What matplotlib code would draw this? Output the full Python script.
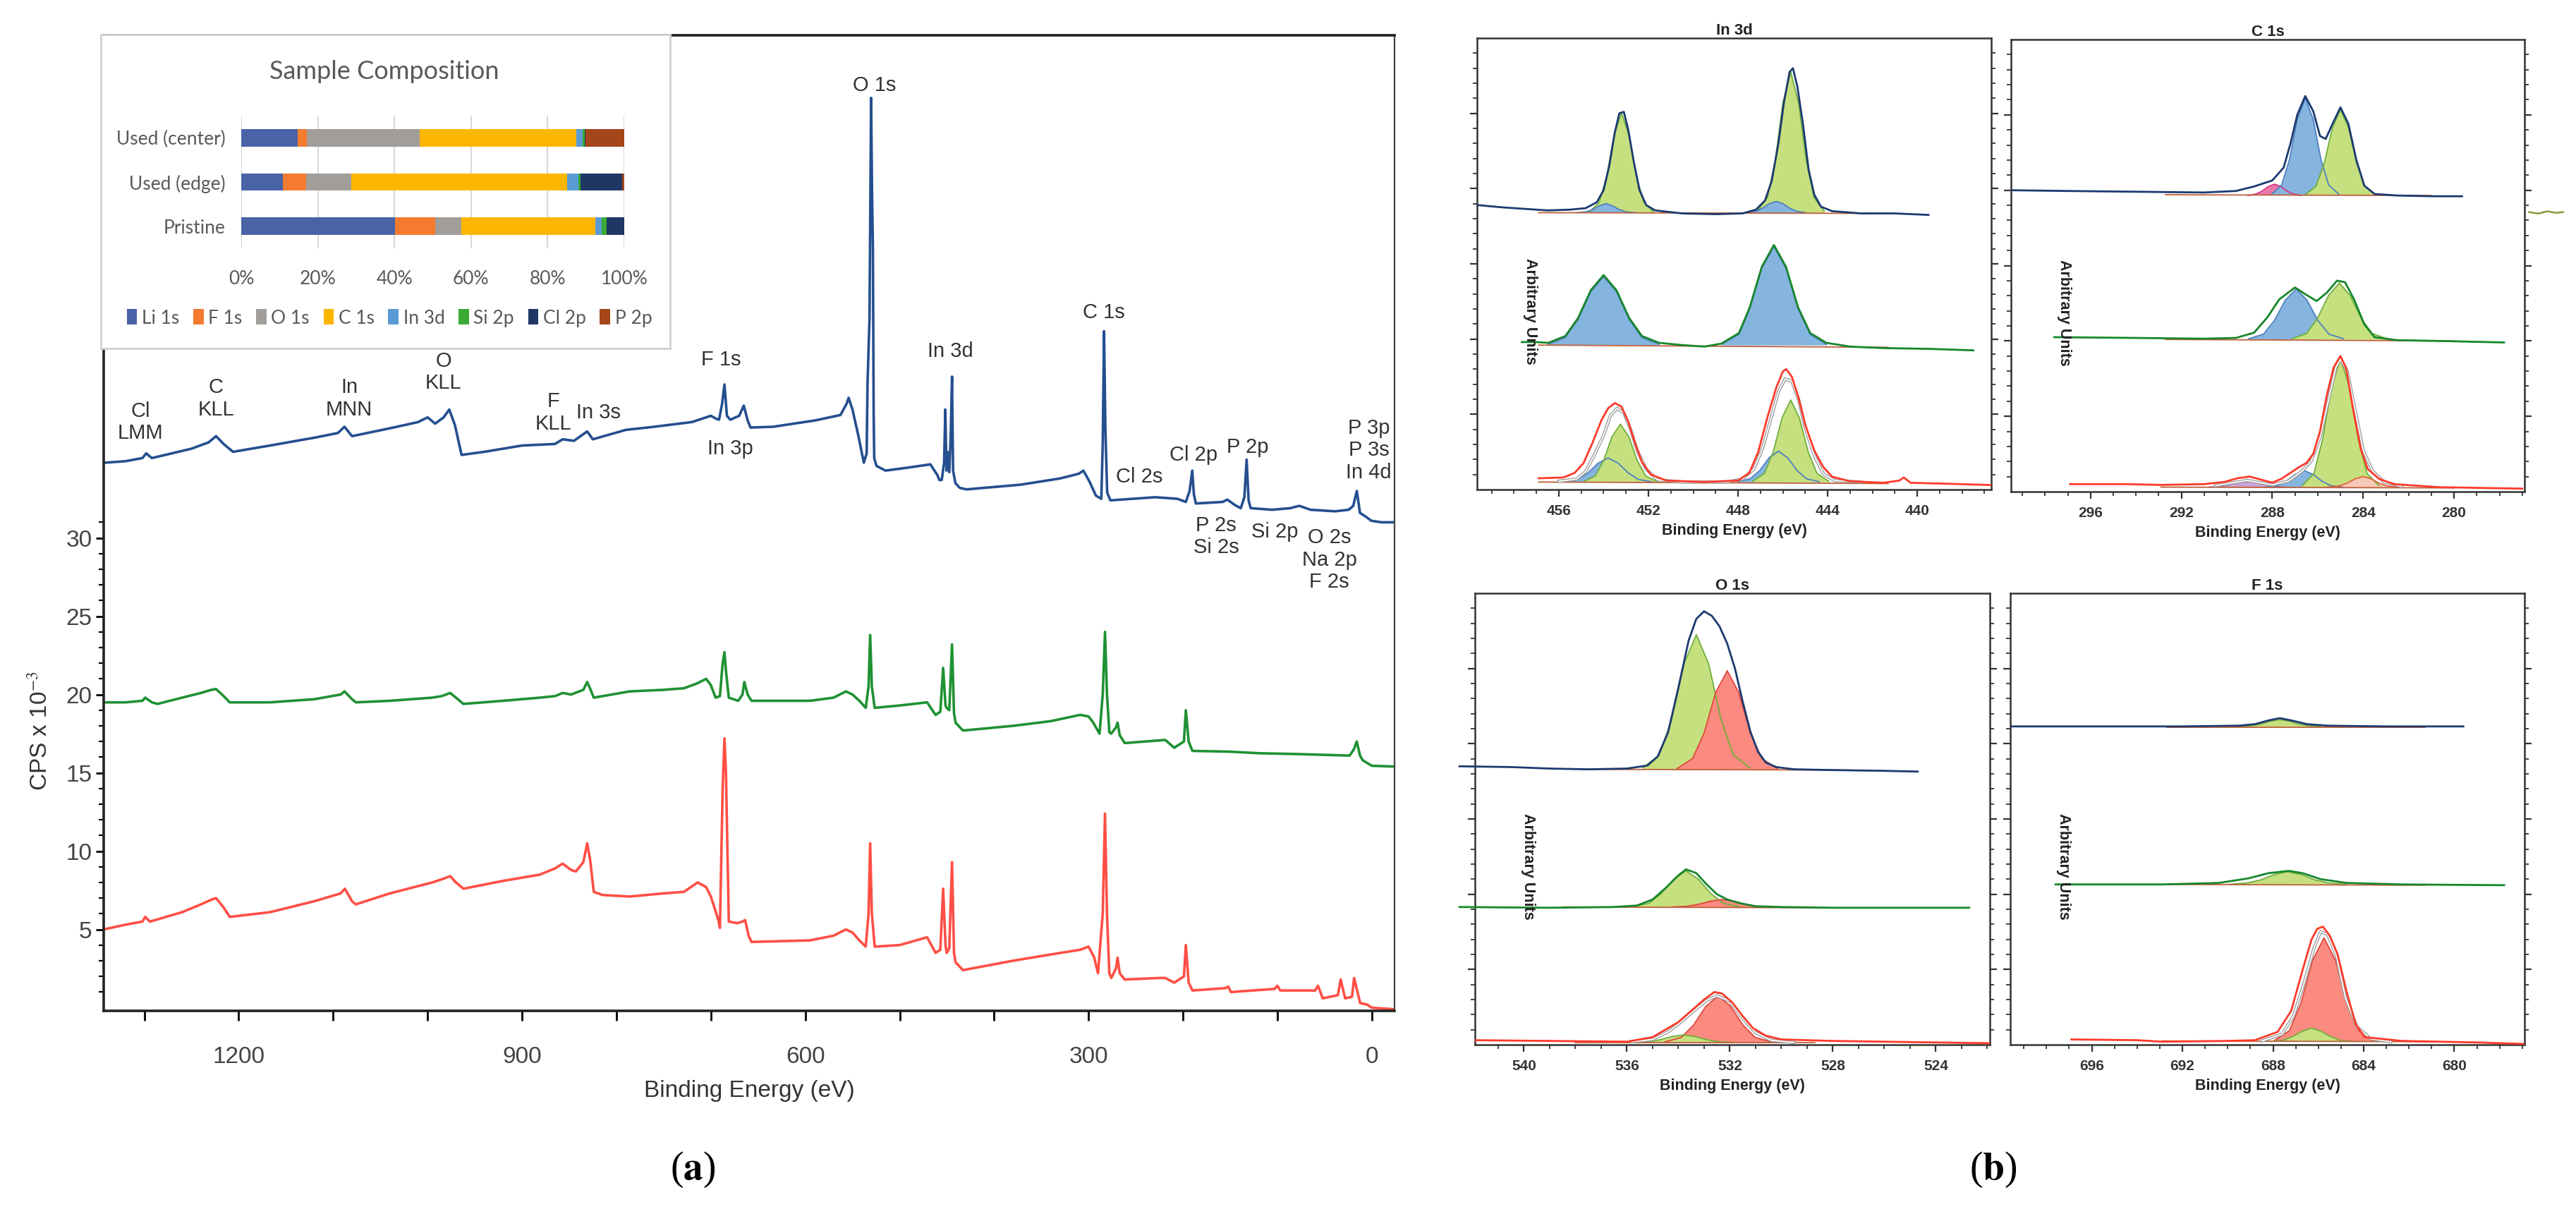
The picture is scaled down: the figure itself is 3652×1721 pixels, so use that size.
import matplotlib
matplotlib.use("Agg")
import matplotlib.pyplot as plt
from matplotlib.patches import Patch

plt.rcParams["mathtext.fontset"] = "stix"

# ---------------- inset: sample composition ----------------
samples = ["Pristine", "Used (edge)", "Used (center)"]
elements = ["Li 1s", "F 1s", "O 1s", "C 1s", "In 3d", "Si 2p", "Cl 2p", "P 2p"]
share_pristine = [40.1, 10.6, 6.7, 35.1, 1.6, 1.3, 4.6, 0.0]
share_edge = [10.9, 6.1, 11.8, 56.2, 3.1, 0.5, 10.8, 0.6]
share_center = [14.7, 2.5, 29.4, 40.8, 1.8, 0.5, 0.1, 10.2]
element_colors = ["#4a62a6", "#f47b30", "#a19d99", "#fdb600",
                  "#5b9bd5", "#3aaa35", "#1f3764", "#a5461a"]

# ---------------- survey spectra (a) ----------------
survey_blue = [
    (1343, 34.8), (1320, 34.9), (1302, 35.1), (1298, 35.4), (1292, 35.1), (1250, 35.7),
    (1232, 36.1), (1224, 36.5), (1216, 36.0), (1206, 35.5), (1167, 35.9), (1120, 36.4),
    (1095, 36.7), (1088, 37.1), (1080, 36.5), (1040, 37.0), (1010, 37.4), (1000, 37.7),
    (992, 37.3), (983, 37.7), (977, 38.2), (971, 37.2), (964, 35.3), (940, 35.5),
    (900, 35.9), (865, 36.0), (857, 36.3), (845, 36.2), (831, 36.8), (825, 36.3),
    (790, 36.9), (760, 37.1), (720, 37.4), (705, 37.7), (700, 37.8), (694, 37.6),
    (691.3, 37.55), (688, 38.6), (685.6, 39.8), (683, 37.8), (679.4, 37.55), (670, 37.8),
    (665.1, 38.45), (661, 37.5), (658, 37.05), (634, 37.1), (590, 37.5), (562.7, 37.85),
    (556, 38.6), (554.1, 38.95), (550, 38.2), (543.7, 36.5), (538, 34.8), (535, 35.4),
    (534.1, 39.8), (532, 44.0), (530.3, 58.1), (529.3, 52.0), (528.4, 48.6), (527.6, 38.0),
    (527, 35.1), (524.6, 34.6), (515, 34.3), (490, 34.5), (467.5, 34.7), (460, 34.0),
    (458, 33.7), (455.5, 33.7), (453, 34.8), (451.7, 38.2), (450.5, 34.3), (449.5, 35.5),
    (447.5, 34.2), (446, 36.5), (444.6, 40.3), (443.5, 34.3), (441, 33.5), (436.5, 33.2),
    (429.3, 33.1), (372, 33.4), (330, 33.8), (310.3, 34.1), (305.5, 34.3), (299, 33.6),
    (292.2, 32.7), (286.5, 32.5), (285, 36.0), (283.6, 43.2), (282.2, 37.0), (280.3, 32.9),
    (276.9, 32.4), (229.3, 32.6), (206, 32.5), (197, 32.3), (193, 33.0), (190.2, 34.3),
    (188.5, 32.8), (186.4, 32.2), (157.9, 32.3), (153.1, 32.45), (145, 32.1), (138.8, 31.9),
    (135, 32.6), (132.6, 35.0), (130.5, 32.4), (128.3, 31.9), (105.5, 31.8), (86.4, 31.9),
    (76.9, 32.05), (65, 31.8), (38.8, 31.7), (24.5, 31.8), (19.7, 32.05), (15.9, 33.0),
    (12.6, 31.6), (5, 31.3), (0.7, 31.1), (-10, 31.0), (-24, 31.0)]

survey_green = [
    (1343, 19.5), (1320, 19.5), (1302, 19.6), (1299, 19.8), (1292, 19.5), (1286, 19.4),
    (1260, 19.8), (1240, 20.1), (1229, 20.3), (1224, 20.35), (1216, 19.9), (1209.5, 19.5),
    (1167, 19.5), (1120, 19.7), (1092, 20.0), (1088, 20.2), (1080, 19.7), (1076, 19.5),
    (1040, 19.6), (995, 19.8), (985, 19.9), (976, 20.1), (970, 19.8), (962, 19.4),
    (920, 19.6), (881, 19.8), (865, 19.9), (857, 20.1), (848, 20.0), (835, 20.3),
    (831, 20.8), (828, 20.4), (824, 19.8), (786, 20.2), (750, 20.3), (728.5, 20.4),
    (715, 20.7), (705, 21.0), (700, 20.6), (695, 19.8), (690.4, 19.9), (687.5, 22.0),
    (685.6, 22.7), (684, 21.5), (681, 19.8), (671, 19.6), (666.5, 20.0), (664.6, 20.8),
    (661, 20.0), (657, 19.6), (595, 19.6), (570, 19.8), (557, 20.2), (550, 20.0),
    (542.7, 19.6), (536, 19.15), (533, 20.5), (531.3, 23.8), (529.5, 20.5), (526.5, 19.15),
    (500, 19.3), (471, 19.5), (462, 18.7), (457, 18.9), (454, 21.7), (451.5, 19.3),
    (450.3, 19.15), (447.5, 19.0), (444.6, 23.2), (442.5, 18.8), (440.8, 18.2), (433, 17.7),
    (380, 18.0), (340, 18.3), (309, 18.7), (300, 18.6), (295, 18.2), (288.4, 17.5),
    (285, 20.0), (282.6, 24.0), (280.5, 20.0), (278, 17.6), (276, 17.5), (271, 17.9),
    (269.3, 18.2), (267, 17.4), (261.7, 16.9), (218.8, 17.1), (209.3, 16.6), (199, 17.0),
    (197, 19.0), (194, 17.0), (190, 16.4), (150, 16.35), (118.8, 16.25), (80, 16.2),
    (23.6, 16.1), (19, 16.5), (16, 17.0), (12.5, 16.1), (9.6, 15.8), (0, 15.45), (-24, 15.4)]

survey_red = [
    (1343, 5.0), (1320, 5.3), (1302, 5.5), (1299, 5.8), (1294, 5.5), (1260, 6.1),
    (1240, 6.6), (1229, 6.9), (1224, 7.0), (1216, 6.4), (1209.5, 5.8), (1167, 6.1),
    (1120, 6.8), (1092, 7.3), (1087.6, 7.6), (1080, 6.8), (1076, 6.6), (1040, 7.3),
    (995, 8.0), (985, 8.2), (976, 8.4), (970, 8.0), (962, 7.6), (920, 8.1),
    (881, 8.5), (865, 8.9), (857, 9.2), (848, 8.8), (843, 8.7), (835, 9.3),
    (831, 10.5), (828, 9.5), (824, 7.4), (815, 7.2), (786, 7.1), (750, 7.3),
    (728.5, 7.4), (714, 8.0), (705, 7.7), (700, 7.1), (692, 5.6), (690.4, 5.1),
    (687.5, 14.0), (685.6, 17.2), (684, 15.0), (681, 5.5), (672, 5.4), (666.5, 5.5),
    (663.7, 5.6), (660, 4.6), (657, 4.2), (595, 4.3), (570, 4.6), (557, 5.0),
    (550, 4.8), (542.7, 4.3), (536, 3.9), (533, 6.0), (531.3, 10.5), (529.5, 6.0),
    (526.5, 3.9), (500, 4.0), (471, 4.5), (462, 3.5), (457, 3.7), (454, 7.6),
    (451.5, 4.0), (450.3, 3.5), (447.5, 3.8), (444.6, 9.3), (442.5, 3.5), (440.8, 2.9),
    (433, 2.4), (380, 3.0), (340, 3.4), (309, 3.7), (300, 3.9), (294, 3.2),
    (290, 2.2), (285, 6.0), (282.6, 12.4), (280.5, 6.0), (278, 2.2), (276, 1.9),
    (271, 2.5), (269.3, 3.2), (267, 2.2), (261.7, 1.8), (225, 1.9), (218.8, 1.9),
    (209.3, 1.6), (199, 2.0), (197, 4.0), (194, 1.6), (190, 1.1), (155, 1.25),
    (152, 1.35), (149.3, 1.0), (103, 1.2), (100, 1.4), (97, 1.1), (81, 1.1),
    (60, 1.1), (57, 1.4), (52, 0.6), (36, 0.8), (33, 1.8), (28.3, 0.6),
    (21, 0.7), (18.8, 1.9), (12.4, 0.3), (5, 0.2), (0, 0.0), (-24, -0.1)]

survey_labels = [
    ("Cl\nLMM", 1304, 37.4), ("C\nKLL", 1224, 38.9), ("In\nMNN", 1083, 38.9),
    ("O\nKLL", 983, 40.6), ("F\nKLL", 867, 38.0), ("In 3s", 819, 38.0),
    ("F 1s", 689, 41.4), ("In 3p", 679.5, 35.7), ("O 1s", 527, 58.9),
    ("In 3d", 446, 41.9), ("C 1s", 284, 44.4), ("Cl 2s", 246, 33.9),
    ("Cl 2p", 188.8, 35.3), ("P 2p", 131.6, 35.8), ("P 3p\nP 3s\nIn 4d", 3.1, 35.6),
    ("P 2s\nSi 2s", 165, 30.1), ("Si 2p", 103, 30.4), ("O 2s\nNa 2p\nF 2s", 45, 28.6)]

# ---------------- high resolution spectra (b) ----------------
# In 3d
in3d_top_data = [
    (459.6, 3.78), (458.5, 3.75), (457.5, 3.73), (456.5, 3.71), (455.5, 3.72), (454.8, 3.74),
    (454.3, 3.82), (454.0, 3.98), (453.75, 4.3), (453.5, 4.75), (453.3, 5.0), (453.1, 5.02),
    (452.9, 4.78), (452.65, 4.35), (452.4, 3.98), (452.1, 3.78), (451.7, 3.71), (450.5, 3.67),
    (449.0, 3.66), (447.8, 3.67), (447.2, 3.72), (446.8, 3.84), (446.5, 4.1), (446.2, 4.6),
    (445.95, 5.15), (445.7, 5.55), (445.55, 5.6), (445.35, 5.35), (445.1, 4.85), (444.85, 4.25),
    (444.6, 3.92), (444.3, 3.76), (443.8, 3.7), (442.5, 3.67), (441.0, 3.67), (439.5, 3.65)]
in3d_top_g1 = [(454.63, 3.69), (454.19, 3.82), (453.86, 4.17), (453.53, 4.71), (453.2, 5.0),
               (452.87, 4.71), (452.54, 4.17), (452.21, 3.82), (451.77, 3.69)]
in3d_top_b1 = [(455.2, 3.68), (454.8, 3.69), (454.5, 3.72), (454.2, 3.77), (453.9, 3.8),
               (453.6, 3.77), (453.3, 3.72), (453.0, 3.69), (452.6, 3.68)]
in3d_top_g2 = [(447.15, 3.7), (446.69, 3.88), (446.34, 4.37), (446.0, 5.14), (445.65, 5.55),
               (445.3, 5.14), (444.96, 4.37), (444.61, 3.88), (444.15, 3.7)]
in3d_top_b2 = [(447.6, 3.68), (447.2, 3.7), (446.9, 3.74), (446.6, 3.8), (446.3, 3.83),
               (446.0, 3.8), (445.7, 3.74), (445.4, 3.7), (445.0, 3.68)]
in3d_top_bg = [(456.9, 3.68), (441.3, 3.67)]

in3d_mid_data = [
    (457.65, 1.96), (457.0, 1.96), (456.47, 1.95), (455.71, 2.04), (455.14, 2.28), (454.57, 2.65),
    (454.0, 2.85), (453.43, 2.65), (452.86, 2.28), (452.29, 2.04), (451.53, 1.95), (450.5, 1.92),
    (449.5, 1.9), (448.74, 1.94), (447.96, 2.08), (447.48, 2.42), (446.94, 2.96), (446.4, 3.25),
    (445.86, 2.96), (445.32, 2.42), (444.78, 2.08), (444.06, 1.95), (443.0, 1.9), (441.5, 1.88),
    (439.5, 1.87), (437.5, 1.85)]
in3d_mid_b1 = [(456.47, 1.93), (455.71, 2.02), (455.14, 2.26), (454.57, 2.63), (454.0, 2.83),
               (453.43, 2.63), (452.86, 2.26), (452.29, 2.02), (451.53, 1.93)]
in3d_mid_b2 = [(448.74, 1.93), (447.96, 2.06), (447.48, 2.4), (446.94, 2.94), (446.4, 3.23),
               (445.86, 2.94), (445.32, 2.4), (444.78, 2.06), (444.06, 1.93)]
in3d_mid_bg = [(456.9, 1.92), (441.3, 1.89)]

in3d_bot_data = [
    (456.9, 0.15), (455.8, 0.16), (455.3, 0.22), (454.9, 0.35), (454.5, 0.62), (454.1, 0.92),
    (453.8, 1.08), (453.5, 1.15), (453.2, 1.1), (452.9, 0.9), (452.6, 0.62), (452.3, 0.37),
    (451.9, 0.2), (451.2, 0.12), (449.5, 0.1), (448.0, 0.12), (447.5, 0.22), (447.1, 0.5),
    (446.7, 0.95), (446.3, 1.35), (446.0, 1.57), (445.85, 1.6), (445.6, 1.5), (445.3, 1.22),
    (445.0, 0.86), (444.6, 0.52), (444.2, 0.3), (443.8, 0.17), (443.0, 0.11), (441.5, 0.09),
    (440.8, 0.12), (440.6, 0.16), (440.3, 0.09), (439.0, 0.08), (436.7, 0.06)]
in3d_bot_env = [
    (456.0, 0.11), (455.2, 0.14), (454.8, 0.24), (454.4, 0.47), (454.0, 0.72), (453.7, 0.98),
    (453.4, 1.08), (453.1, 1.02), (452.8, 0.8), (452.5, 0.52), (452.1, 0.27), (451.6, 0.13),
    (450.5, 0.1), (448.5, 0.1), (447.8, 0.14), (447.3, 0.27), (446.9, 0.55), (446.5, 0.98),
    (446.2, 1.3), (445.9, 1.47), (445.6, 1.44), (445.3, 1.2), (445.0, 0.82), (444.6, 0.45),
    (444.2, 0.21), (443.7, 0.12), (442.5, 0.1)]
in3d_bot_g1 = [(454.88, 0.107), (454.38, 0.18), (454.0, 0.385), (453.63, 0.7), (453.25, 0.87),
               (452.87, 0.7), (452.5, 0.385), (452.12, 0.18), (451.62, 0.107)]
in3d_bot_b1 = [(455.75, 0.103), (455.15, 0.134), (454.7, 0.22), (454.25, 0.35), (453.8, 0.42),
               (453.35, 0.35), (452.9, 0.22), (452.45, 0.134), (451.85, 0.103)]
in3d_bot_g2 = [(447.35, 0.11), (446.82, 0.216), (446.43, 0.5), (446.04, 0.95), (445.65, 1.19),
               (445.26, 0.95), (444.87, 0.5), (444.48, 0.216), (443.95, 0.11)]
in3d_bot_b2 = [(448.02, 0.104), (447.46, 0.143), (447.04, 0.25), (446.62, 0.42), (446.2, 0.51),
               (445.78, 0.42), (445.36, 0.25), (444.94, 0.143), (444.38, 0.104)]
in3d_bot_bg = [(456.9, 0.1), (441.3, 0.08)]

# C 1s
c1s_top_data = [
    (299.5, 4.0), (297.0, 3.99), (294.0, 3.98), (291.0, 3.97), (289.6, 3.99), (288.8, 4.05),
    (288.0, 4.13), (287.5, 4.3), (287.2, 4.62), (286.9, 5.0), (286.55, 5.25), (286.2, 5.05),
    (285.9, 4.72), (285.65, 4.68), (285.35, 4.88), (285.0, 5.1), (284.65, 4.88), (284.3, 4.4),
    (283.95, 4.06), (283.5, 3.95), (282.5, 3.93), (281.0, 3.92), (279.65, 3.92)]
c1s_top_b = [(288.05, 3.94), (287.59, 4.07), (287.24, 4.41), (286.9, 4.94), (286.55, 5.22),
             (286.2, 4.94), (285.86, 4.41), (285.52, 4.07), (285.05, 3.94)]
c1s_top_g = [(286.56, 3.94), (286.08, 4.05), (285.72, 4.35), (285.36, 4.82), (285.0, 5.07),
             (284.64, 4.82), (284.28, 4.35), (283.92, 4.05), (283.44, 3.94)]
c1s_top_p = [(289.07, 3.93), (288.71, 3.95), (288.44, 3.99), (288.17, 4.05), (287.9, 4.08),
             (287.63, 4.05), (287.36, 3.99), (287.09, 3.95), (286.73, 3.93)]
c1s_top_bg = [(292.7, 3.94), (281.0, 3.93)]

c1s_mid_data = [
    (297.6, 2.05), (294.0, 2.04), (291.0, 2.03), (289.6, 2.04), (288.8, 2.11), (288.2, 2.32),
    (287.7, 2.55), (287.0, 2.71), (286.55, 2.62), (286.05, 2.53), (285.6, 2.64), (285.15, 2.8),
    (284.8, 2.78), (284.4, 2.55), (283.95, 2.22), (283.5, 2.05), (282.5, 2.01), (280.7, 2.0),
    (277.8, 1.98)]
c1s_mid_b = [(289.03, 2.03), (288.39, 2.09), (287.91, 2.27), (287.43, 2.54), (286.95, 2.69),
             (286.47, 2.54), (285.99, 2.27), (285.51, 2.09), (284.87, 2.03)]
c1s_mid_g = [(287.13, 2.03), (286.49, 2.1), (286.01, 2.3), (285.53, 2.6), (285.05, 2.77),
             (284.57, 2.6), (284.09, 2.3), (283.61, 2.1), (282.97, 2.03)]
c1s_mid_bg = [(292.7, 2.02), (280.0, 2.0)]

c1s_bot_data = [
    (296.9, 0.1), (294.5, 0.1), (292.9, 0.09), (291.0, 0.1), (290.1, 0.13), (289.5, 0.18),
    (289.0, 0.2), (288.5, 0.16), (288.0, 0.12), (287.6, 0.17), (287.2, 0.25), (286.8, 0.33),
    (286.5, 0.38), (286.2, 0.5), (285.9, 0.8), (285.6, 1.28), (285.3, 1.65), (285.0, 1.8),
    (284.75, 1.64), (284.45, 1.1), (284.1, 0.56), (283.8, 0.3), (283.3, 0.17), (282.65, 0.1),
    (280.7, 0.06), (277.0, 0.04)]
c1s_bot_env = [
    (290.5, 0.08), (289.1, 0.15), (288.0, 0.09), (287.3, 0.14), (286.7, 0.27), (286.3, 0.4),
    (285.9, 0.72), (285.5, 1.25), (285.2, 1.65), (285.0, 1.76), (284.7, 1.6), (284.3, 1.0),
    (284.0, 0.55), (283.6, 0.28), (283.1, 0.13), (282.3, 0.07)]
c1s_bot_g = [(286.69, 0.08), (286.17, 0.24), (285.78, 0.7), (285.39, 1.4), (285.0, 1.76),
             (284.61, 1.4), (284.22, 0.7), (283.83, 0.24), (283.31, 0.08)]
c1s_bot_b = [(288.29, 0.06), (287.77, 0.08), (287.38, 0.14), (286.99, 0.23), (286.6, 0.28),
             (286.21, 0.23), (285.82, 0.14), (285.43, 0.08), (284.91, 0.06)]
c1s_bot_o = [(285.56, 0.06), (285.08, 0.075), (284.72, 0.11), (284.36, 0.17), (284.0, 0.2),
             (283.64, 0.17), (283.28, 0.11), (282.92, 0.075), (282.44, 0.06)]
c1s_bot_v = [(290.79, 0.06), (290.27, 0.07), (289.88, 0.093), (289.49, 0.13), (289.1, 0.15),
             (288.71, 0.13), (288.32, 0.093), (287.93, 0.07), (287.41, 0.06)]
c1s_bot_bg = [(292.9, 0.06), (280.0, 0.05)]
c1s_stub = [(276.7, 3.71), (276.3, 3.69), (275.9, 3.72), (275.5, 3.7), (275.2, 3.71)]

# O 1s
o1s_top_data = [
    (542.5, 3.7), (540.5, 3.69), (539.0, 3.67), (537.5, 3.66), (536.0, 3.67), (535.2, 3.71),
    (534.8, 3.83), (534.4, 4.15), (534.0, 4.74), (533.6, 5.37), (533.3, 5.66), (533.0, 5.76),
    (532.7, 5.7), (532.4, 5.56), (532.1, 5.33), (531.8, 5.0), (531.5, 4.56), (531.2, 4.16),
    (530.9, 3.89), (530.6, 3.75), (530.2, 3.69), (529.5, 3.66), (528.0, 3.65), (526.0, 3.64),
    (524.7, 3.63)]
o1s_top_g = [(535.38, 3.68), (534.74, 3.85), (534.26, 4.32), (533.78, 5.06), (533.3, 5.45),
             (532.82, 5.06), (532.34, 4.32), (531.86, 3.85), (531.22, 3.68)]
o1s_top_r = [(534.05, 3.67), (533.45, 3.8), (533.0, 4.14), (532.55, 4.68), (532.1, 4.97),
             (531.65, 4.68), (531.2, 4.14), (530.75, 3.8), (530.15, 3.67)]
o1s_top_bg = [(537.7, 3.66), (527.3, 3.65)]

o1s_mid_data = [
    (542.5, 1.83), (539.0, 1.82), (536.5, 1.83), (535.6, 1.85), (535.0, 1.93), (534.5, 2.08),
    (534.0, 2.25), (533.7, 2.33), (533.3, 2.28), (532.9, 2.13), (532.5, 2.0), (532.1, 1.93),
    (531.6, 1.88), (531.0, 1.84), (530.0, 1.83), (528.0, 1.82), (525.0, 1.82), (522.7, 1.82)]
o1s_mid_g = [(535.78, 1.834), (535.14, 1.88), (534.66, 2.01), (534.18, 2.2), (533.7, 2.31),
             (533.22, 2.2), (532.74, 2.01), (532.26, 1.88), (531.62, 1.834)]
o1s_mid_r = [(534.25, 1.83), (533.65, 1.84), (533.2, 1.867), (532.75, 1.908), (532.3, 1.93),
             (531.85, 1.908), (531.4, 1.867), (530.95, 1.84), (530.35, 1.83)]
o1s_mid_bg = [(538.5, 1.83), (528.1, 1.82)]

o1s_bot_data = [
    (541.9, 0.06), (539.0, 0.05), (536.0, 0.04), (535.0, 0.1), (534.5, 0.2), (534.0, 0.3),
    (533.5, 0.45), (533.0, 0.6), (532.6, 0.7), (532.3, 0.68), (531.9, 0.56), (531.5, 0.38),
    (531.1, 0.22), (530.6, 0.12), (530.0, 0.07), (528.0, 0.05), (524.0, 0.03), (521.9, 0.02)]
o1s_bot_env = [
    (535.8, 0.04), (535.0, 0.07), (534.4, 0.17), (533.9, 0.3), (533.4, 0.45), (532.9, 0.59),
    (532.5, 0.65), (532.0, 0.58), (531.5, 0.35), (531.0, 0.16), (530.4, 0.06), (529.5, 0.03)]
o1s_bot_r = [(534.53, 0.036), (533.89, 0.096), (533.41, 0.26), (532.93, 0.51), (532.45, 0.65),
             (531.97, 0.51), (531.49, 0.26), (531.01, 0.096), (530.37, 0.036)]
o1s_bot_g = [(535.75, 0.03), (535.15, 0.04), (534.7, 0.067), (534.25, 0.108), (533.8, 0.13),
             (533.35, 0.108), (532.9, 0.067), (532.45, 0.04), (531.85, 0.03)]
o1s_bot_bg = [(538.0, 0.03), (528.7, 0.03)]

# F 1s
f1s_top_data = [
    (699.6, 4.23), (696.0, 4.23), (692.1, 4.23), (689.5, 4.24), (688.8, 4.26), (688.2, 4.31),
    (687.7, 4.34), (687.2, 4.31), (686.5, 4.26), (685.6, 4.24), (683.0, 4.23), (679.6, 4.23)]
f1s_top_g = [(689.52, 4.23), (688.96, 4.24), (688.54, 4.26), (688.12, 4.3), (687.7, 4.32),
             (687.28, 4.3), (686.86, 4.26), (686.44, 4.24), (685.88, 4.23)]
f1s_top_bg = [(692.7, 4.22), (681.3, 4.22)]

f1s_mid_data = [
    (697.6, 2.13), (692.9, 2.13), (690.4, 2.15), (689.1, 2.21), (688.2, 2.28), (687.3, 2.31),
    (686.7, 2.28), (685.9, 2.2), (684.75, 2.15), (682.3, 2.13), (677.8, 2.12)]
f1s_mid_g = [(689.95, 2.13), (689.15, 2.15), (688.55, 2.19), (687.95, 2.26), (687.35, 2.3),
             (686.75, 2.26), (686.15, 2.19), (685.55, 2.15), (684.75, 2.13)]
f1s_mid_bg = [(692.9, 2.13), (681.3, 2.12)]

f1s_bot_data = [
    (696.9, 0.07), (694.0, 0.06), (692.9, 0.04), (690.0, 0.05), (688.8, 0.06), (687.8, 0.17),
    (687.2, 0.45), (686.7, 0.99), (686.3, 1.4), (686.05, 1.54), (685.8, 1.57), (685.5, 1.45),
    (685.15, 1.2), (684.75, 0.7), (684.35, 0.27), (683.95, 0.1), (682.3, 0.05), (679.0, 0.03),
    (676.9, 0.01)]
f1s_bot_env = [
    (688.5, 0.05), (687.6, 0.14), (687.1, 0.38), (686.6, 0.85), (686.2, 1.28), (685.9, 1.5),
    (685.6, 1.47), (685.2, 1.18), (684.8, 0.62), (684.3, 0.24), (683.7, 0.08), (682.8, 0.04)]
f1s_bot_r = [(687.96, 0.052), (687.28, 0.186), (686.77, 0.55), (686.26, 1.12), (685.75, 1.42),
             (685.24, 1.12), (684.73, 0.55), (684.22, 0.186), (683.54, 0.052)]
f1s_bot_g = [(688.12, 0.042), (687.56, 0.059), (687.14, 0.107), (686.72, 0.18), (686.3, 0.22),
             (685.88, 0.18), (685.46, 0.107), (685.04, 0.059), (684.48, 0.042)]
f1s_bot_bg = [(692.9, 0.05), (681.0, 0.04)]

# ---------------- styles ----------------
SANS = ["Liberation Sans", "DejaVu Sans"]
LABEL_GREY = "#333333"
SURVEY_COL = {"blue": "#244f8f", "green": "#1f9133", "red": "#ff4f45"}
DATA_COL = {"blue": "#1c3a70", "green": "#17862a", "red": "#ff3a2a"}
COMP_STYLE = {
    "g": ("#c6e07f", "#6fae3c"),
    "b": ("#85b5de", "#4f7fc0"),
    "r": ("#fb8a80", "#e0453a"),
    "p": ("#e878aa", "#d63384"),
    "v": ("#c7a3d6", "#9b6bb5"),
    "o": ("#f6c9b8", "#e0603a"),
}

W, H = 3652, 1721
fig = plt.figure(figsize=(W / 100, H / 100), dpi=100)
fig.patch.set_facecolor("white")


def fr(x0, y0, x1, y1):
    return [x0 / W, 1 - y1 / H, (x1 - x0) / W, (y1 - y0) / H]


# ---------------- (a) survey ----------------
ax = fig.add_axes(fr(147, 50, 1977, 1433))
for pts, key in [(survey_blue, "blue"), (survey_green, "green"), (survey_red, "red")]:
    e, c = zip(*pts)
    ax.plot(e, c, color=SURVEY_COL[key], lw=2.6, solid_joinstyle="round")
ax.set_xlim(1343, -24)
ax.set_ylim(-0.2, 62.1)
ax.set_xticks([1200, 900, 600, 300, 0])
ax.set_xticks([1300, 1100, 1000, 800, 700, 500, 400, 200, 100], minor=True)
ax.set_yticks([5, 10, 15, 20, 25, 30])
ax.set_yticks([v for v in range(1, 32) if v % 5], minor=True)
ax.tick_params(axis="x", which="major", direction="out", length=10, width=2,
               pad=26, labelsize=24, labelcolor="#444444")
ax.tick_params(axis="x", which="minor", direction="out", length=10, width=2)
ax.tick_params(axis="y", which="major", direction="out", length=8, width=2,
               pad=4, labelsize=24, labelcolor="#444444")
ax.tick_params(axis="y", which="minor", direction="out", length=5, width=1.6)
for lab in ax.get_xticklabels() + ax.get_yticklabels():
    lab.set_family(SANS)
for side in ["left", "bottom", "top"]:
    ax.spines[side].set_linewidth(2.6)
    ax.spines[side].set_color("#222222")
ax.spines["right"].set_linewidth(1.6)
ax.spines["right"].set_color("#444444")
ax.set_xlabel("Binding Energy (eV)", fontsize=24, color=LABEL_GREY, family=SANS, labelpad=12)
fig.text(57 / W, 1 - 1036 / H, "CPS x 10$^{-3}$", rotation=90, ha="center", va="center",
         fontsize=24, color=LABEL_GREY, family=SANS)
for txt, e, c in survey_labels:
    ax.text(e, c, txt, ha="center", va="center", fontsize=21, color=LABEL_GREY,
            family=SANS, linespacing=1.15)

# ---------------- inset ----------------
box = fig.add_axes(fr(143, 49, 950, 494))
box.set_xticks([])
box.set_yticks([])
box.set_facecolor("white")
for s in box.spines.values():
    s.set_color("#d0d0d0")
    s.set_linewidth(2)

bx = fig.add_axes(fr(342, 164, 885, 352))
rows = [share_pristine, share_edge, share_center]
for i, row in enumerate(rows):
    left = 0.0
    for j, val in enumerate(row):
        bx.barh(i, val, left=left, height=0.39, color=element_colors[j], lw=0, zorder=3)
        left += val
bx.set_xlim(0, 100)
bx.set_ylim(-0.5, 2.5)
bx.set_xticks([0, 20, 40, 60, 80, 100])
bx.set_xticklabels(["0%", "20%", "40%", "60%", "80%", "100%"])
bx.set_yticks([0, 1, 2])
bx.set_yticklabels(samples)
bx.grid(axis="x", color="#d9d9d9", lw=1.5, zorder=0)
bx.set_axisbelow(True)
for s in bx.spines.values():
    s.set_visible(False)
bx.tick_params(axis="both", length=0, labelsize=19, labelcolor="#595959")
bx.tick_params(axis="x", pad=22)
bx.tick_params(axis="y", pad=16)
for lab in bx.get_xticklabels() + bx.get_yticklabels():
    lab.set_family(["Lato", "DejaVu Sans"])
fig.text(545 / W, 1 - 101 / H, "Sample Composition", ha="center", va="center",
         fontsize=26, color="#595959", family=["Lato", "DejaVu Sans"])
handles = [Patch(facecolor=c, edgecolor="none") for c in element_colors]
fig.legend(handles, elements, loc="center", bbox_to_anchor=(552 / W, 1 - 451 / H),
           ncol=8, frameon=False, prop={"family": "Lato", "size": 19},
           labelcolor="#595959", handlelength=0.55, handleheight=0.9,
           handletextpad=0.25, columnspacing=0.75)


# ---------------- (b) high resolution ----------------
def draw_row(a, data, key, comps, bg, env=None, clip=True):
    base = bg[0][1]
    for pts, kind in comps:
        e, y = zip(*pts)
        face, edge = COMP_STYLE[kind]
        a.fill_between(e, y, base, color=face, lw=0, zorder=2)
        a.plot(e, y, color=edge, lw=1.3, zorder=3)
    e, y = zip(*bg)
    a.plot(e, y, color="#c0603a", lw=1.3, zorder=3.5)
    if env is not None:
        e, y = zip(*env)
        a.plot(e, y, color="#9a9a9a", lw=3.2, zorder=4)
        a.plot(e, y, color="white", lw=1.3, zorder=4.1)
    e, y = zip(*data)
    a.plot(e, y, color=DATA_COL[key], lw=2.0, zorder=5, clip_on=clip)


def style_panel(a, title, xlim, xmajor):
    a.set_xlim(*xlim)
    a.set_ylim(0, 6)
    a.set_xticks(xmajor)
    lo, hi = int(min(xlim)) + 1, int(max(xlim))
    a.set_xticks([v for v in range(lo, hi + 1) if v not in xmajor], minor=True)
    a.set_yticks([1, 2, 3, 4, 5])
    a.set_yticks([v / 5 for v in range(1, 30) if v % 5], minor=True)
    a.tick_params(axis="y", which="both", left=True, right=True, labelleft=False,
                  direction="out")
    a.tick_params(axis="both", which="major", length=7, width=1.6, color="#333333")
    a.tick_params(axis="both", which="minor", length=4.5, width=1.3, color="#333333")
    a.tick_params(axis="x", which="major", pad=8, labelsize=15)
    for lab in a.get_xticklabels():
        lab.set_family(SANS)
        lab.set_fontweight("bold")
        lab.set_color("#333333")
    for s in a.spines.values():
        s.set_linewidth(1.8)
        s.set_color("#333333")
    a.set_title(title, fontsize=16, fontweight="bold", family=SANS, pad=3, color="#222222")
    a.set_xlabel("Binding Energy (eV)", fontsize=15.5, fontweight="bold", family=SANS,
                 labelpad=6, color="#222222")
    a.text(0.104, 0.395, "Arbitrary Units", transform=a.transAxes, rotation=-90,
           ha="center", va="center", fontsize=15.5, fontweight="bold", family=SANS,
           color="#222222", zorder=6)


a1 = fig.add_axes(fr(2094, 54, 2823, 694))
draw_row(a1, in3d_top_data, "blue",
         [(in3d_top_g1, "g"), (in3d_top_b1, "b"), (in3d_top_g2, "g"), (in3d_top_b2, "b")],
         in3d_top_bg)
draw_row(a1, in3d_mid_data, "green", [(in3d_mid_b1, "b"), (in3d_mid_b2, "b")], in3d_mid_bg)
draw_row(a1, in3d_bot_data, "red",
         [(in3d_bot_b1, "b"), (in3d_bot_g1, "g"), (in3d_bot_b2, "b"), (in3d_bot_g2, "g")],
         in3d_bot_bg, env=in3d_bot_env)
style_panel(a1, "In 3d", (459.65, 436.7), [456, 452, 448, 444, 440])

a2 = fig.add_axes(fr(2851, 56, 3579, 697))
draw_row(a2, c1s_top_data, "blue",
         [(c1s_top_p, "p"), (c1s_top_b, "b"), (c1s_top_g, "g")], c1s_top_bg)
draw_row(a2, c1s_mid_data, "green", [(c1s_mid_b, "b"), (c1s_mid_g, "g")], c1s_mid_bg)
draw_row(a2, c1s_bot_data, "red",
         [(c1s_bot_v, "v"), (c1s_bot_b, "b"), (c1s_bot_g, "g"), (c1s_bot_o, "o")],
         c1s_bot_bg, env=c1s_bot_env)
e, y = zip(*c1s_stub)
a2.plot(e, y, color="#8a9a3a", lw=1.8, clip_on=False)
style_panel(a2, "C 1s", (299.5, 276.9), [296, 292, 288, 284, 280])

a3 = fig.add_axes(fr(2091, 841, 2821, 1481))
draw_row(a3, o1s_top_data, "blue", [(o1s_top_g, "g"), (o1s_top_r, "r")], o1s_top_bg,
         clip=False)
draw_row(a3, o1s_mid_data, "green", [(o1s_mid_g, "g"), (o1s_mid_r, "r")], o1s_mid_bg,
         clip=False)
draw_row(a3, o1s_bot_data, "red", [(o1s_bot_r, "r"), (o1s_bot_g, "g")], o1s_bot_bg,
         env=o1s_bot_env)
style_panel(a3, "O 1s", (541.9, 521.9), [540, 536, 532, 528, 524])

a4 = fig.add_axes(fr(2850, 841, 3579, 1481))
draw_row(a4, f1s_top_data, "blue", [(f1s_top_g, "g")], f1s_top_bg)
draw_row(a4, f1s_mid_data, "green", [(f1s_mid_g, "g")], f1s_mid_bg)
draw_row(a4, f1s_bot_data, "red", [(f1s_bot_r, "r"), (f1s_bot_g, "g")], f1s_bot_bg,
         env=f1s_bot_env)
style_panel(a4, "F 1s", (699.6, 676.9), [696, 692, 688, 684, 680])

# panel captions
for x, letter in [(982, "a"), (2826, "b")]:
    fig.text(x / W, 1 - 1658 / H, "($\\mathbf{%s}$)" % letter, ha="center", va="center",
             fontsize=40, family=["Liberation Serif", "DejaVu Serif"])

fig.savefig("out.png", dpi=100, facecolor="white")
